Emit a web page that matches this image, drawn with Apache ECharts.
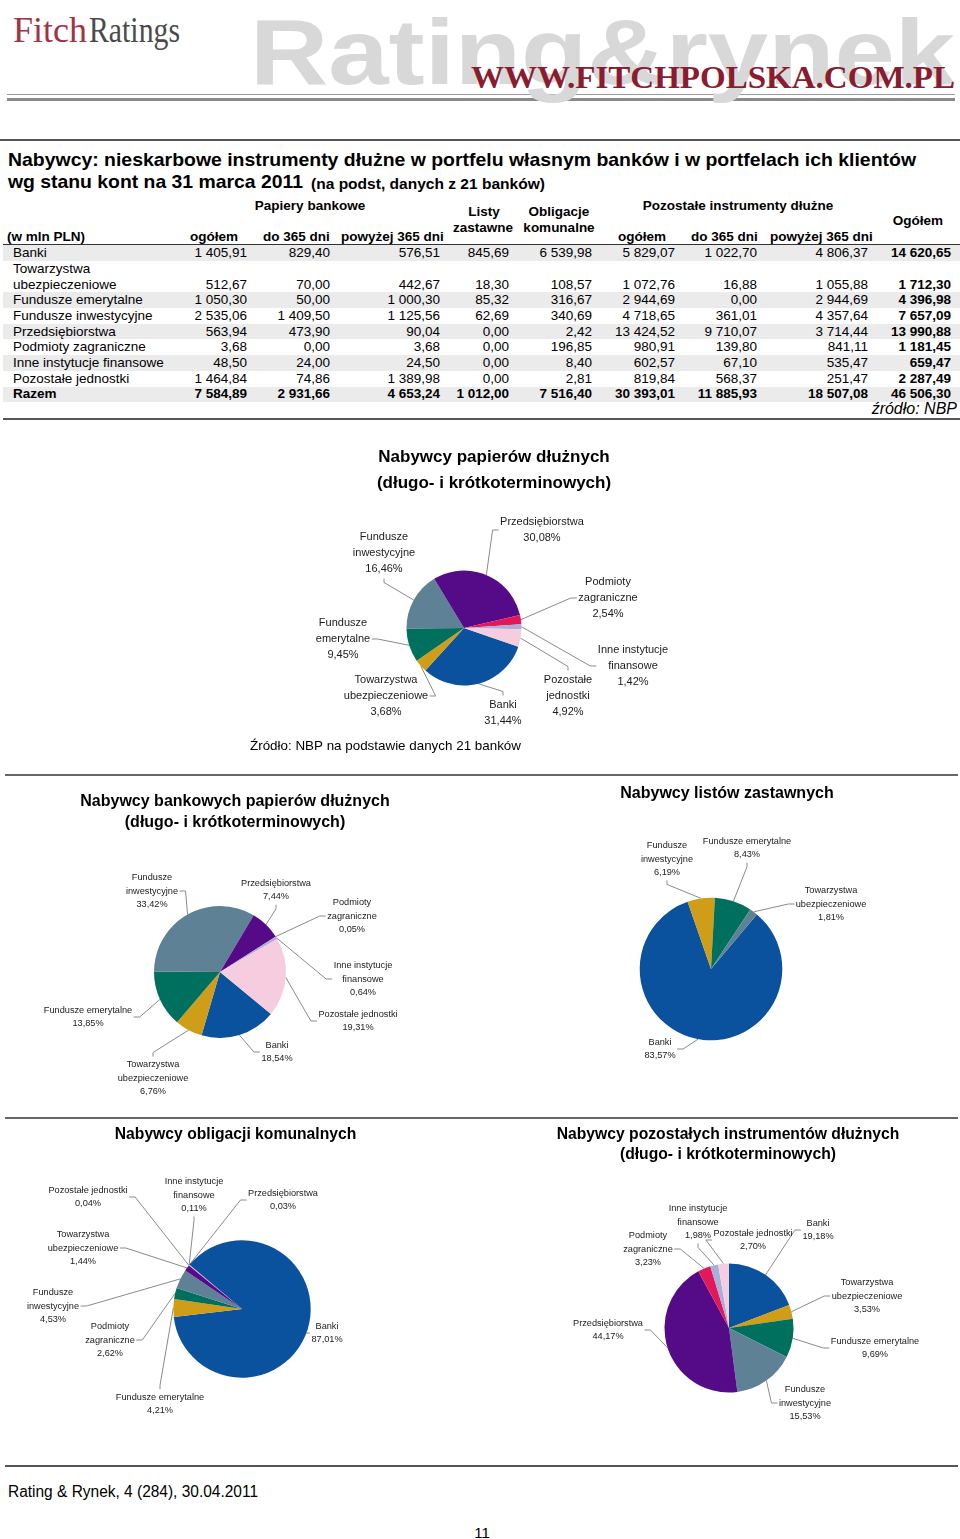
<!DOCTYPE html>
<html><head><meta charset="utf-8">
<script src="https://cdn.jsdelivr.net/npm/echarts@6/dist/echarts.min.js"></script>
<style>
html,body{margin:0;padding:0;background:#fff;}
#page{position:relative;width:960px;height:1539px;overflow:hidden;font-family:'Liberation Sans',Arial,sans-serif;color:#000;}
#chart{position:absolute;left:0;top:0;width:960px;height:1539px;z-index:2;}
.t{position:absolute;white-space:nowrap;line-height:1;z-index:1;}
.r{position:absolute;z-index:0;}
</style></head><body>
<div id="page"><div id="chart"></div></div>
<script>
// ---------- DATA ----------
const categories = ['Banki','Towarzystwa ubezpieczeniowe','Fundusze emerytalne','Fundusze inwestycyjne','Przedsiębiorstwa','Podmioty zagraniczne','Inne instytucje finansowe','Pozostałe jednostki'];
const bankOgolem = [1405.91, 512.67, 1050.30, 2535.06, 563.94, 3.68, 48.50, 1464.84];
const bankDo365  = [829.40, 70.00, 50.00, 1409.50, 473.90, 0.00, 24.00, 74.86];
const bankPow365 = [576.51, 442.67, 1000.30, 1125.56, 90.04, 3.68, 24.50, 1389.98];
const listyZastawne = [845.69, 18.30, 85.32, 62.69, 0.00, 0.00, 0.00, 0.00];
const obligacjeKomunalne = [6539.98, 108.57, 316.67, 340.69, 2.42, 196.85, 8.40, 2.81];
const pozOgolem  = [5829.07, 1072.76, 2944.69, 4718.65, 13424.52, 980.91, 602.57, 819.84];
const pozDo365   = [1022.70, 16.88, 0.00, 361.01, 9710.07, 139.80, 67.10, 568.37];
const pozPow365  = [4806.37, 1055.88, 2944.69, 4357.64, 3714.44, 841.11, 535.47, 251.47];
const ogolem     = [14620.65, 1712.30, 4396.98, 7657.09, 13990.88, 1181.45, 659.47, 2287.49];
const razem      = [7584.89, 2931.66, 4653.24, 1012.00, 7516.40, 30393.01, 11885.93, 18507.08, 46506.30];

// label texts per pie (by category index)
const pie1Labels = ['Banki','Towarzystwa\nubezpieczeniowe','Fundusze\nemerytalne','Fundusze\ninwestycyjne','Przedsiębiorstwa','Podmioty\nzagraniczne','Inne instytucje\nfinansowe','Pozostałe\njednostki'];
const pie2Labels = ['Banki','Towarzystwa\nubezpieczeniowe','Fundusze emerytalne','Fundusze\ninwestycyjne','Przedsiębiorstwa','Podmioty\nzagraniczne','Inne instytucje\nfinansowe','Pozostałe jednostki'];
const pie3Labels = ['Banki','Towarzystwa\nubezpieczeniowe','Fundusze emerytalne','Fundusze\ninwestycyjne','','','',''];
const pie4Labels = ['Banki','Towarzystwa\nubezpieczeniowe','Fundusze emerytalne','Fundusze\ninwestycyjne','Przedsiębiorstwa','Podmioty\nzagraniczne','Inne instytucje\nfinansowe','Pozostałe jednostki'];
const pie5Labels = ['Banki','Towarzystwa\nubezpieczeniowe','Fundusze emerytalne','Fundusze\ninwestycyjne','Przedsiębiorstwa','Podmioty\nzagraniczne','Inne instytucje\nfinansowe','Pozostałe jednostki'];

// ---------- STYLE / LAYOUT ----------
const C = {blue:'#0A519E', gold:'#CF9D17', green:'#00705E', grey:'#5F8196', purple:'#550B88', red:'#E2185A', lav:'#A8AFDB', pink:'#F5CDDF'};
const stdColors = [C.blue, C.gold, C.green, C.grey, C.purple, C.red, C.lav, C.pink];
const pies = [
  {src: ogolem, labels: pie1Labels, order:[0,1,2,3,4,5,6,7], colors: stdColors, center:[464,628], r:57.5, start:-19, font:11, lh:16,
   pos:[[39,85],[-78,68],[-121,11],[-80,-75],[78,-98],[144,-30],[169,38],[104,68]]},
  {src: bankOgolem, labels: pie2Labels, order:[0,1,2,3,4,5,6,7], colors: stdColors, center:[220,972], r:66, start:-39.5, font:9.2, lh:13.3,
   pos:[[57,80],[-67,106],[-132,45],[-68,-81],[56,-82],[132,-56],[143,7],[138,49]]},
  {src: listyZastawne, labels: pie3Labels, order:[0,3,2,1], colors:[C.blue, C.gold, C.green, C.grey], center:[711,969], r:71.3, start:50, font:9.2, lh:13.3,
   pos:[[-51,80],[120,-65],[36,-121],[-44,-110],null,null,null,null]},
  {src: obligacjeKomunalne, labels: pie4Labels, order:[0,2,5,3,1,7,6,4], colors: stdColors, center:[242,1309], r:68.7, start:140, font:9.2, lh:13.3,
   pos:[[85,24],[-159,-61],[-82,95],[-189,-3],[41,-109],[-132,31],[-48,-114],[-154,-112]]},
  {src: pozOgolem, labels: pie5Labels, order:[0,1,2,3,4,5,6,7], colors: stdColors, center:[729,1328], r:64.5, start:90, font:9.2, lh:13.3,
   pos:[[89,-98],[138,-32],[146,20],[76,75],[-121,2],[-81,-79],[-31,-106],[24,-88]]}
];

// ---------- HTML helpers ----------
const page = document.getElementById('page');
function txt(s, x, y, o) {
  o = o || {};
  const d = document.createElement('div');
  d.className = 't';
  d.textContent = s;
  d.style.fontSize = (o.size || 13.5) + 'px';
  if (o.bold) d.style.fontWeight = 'bold';
  if (o.italic) d.style.fontStyle = 'italic';
  if (o.family) d.style.fontFamily = o.family;
  if (o.color) d.style.color = o.color;
  if (o.ls) d.style.letterSpacing = o.ls + 'px';
  d.style.left = x + 'px';
  d.style.top = y + 'px';
  page.appendChild(d);
  const tx = o.align === 'right' ? '-100%' : o.align === 'center' ? '-50%' : '0';
  let tr = 'translate(' + tx + ',-50%)';
  if (o.fit) {
    const w = d.getBoundingClientRect().width;
    tr += ' scaleX(' + (o.fit / w) + ')';
    d.style.transformOrigin = o.align === 'right' ? '100% 50%' : o.align === 'center' ? '50% 50%' : '0 50%';
  }
  d.style.transform = tr;
  return d;
}
function rect(x, y, w, h, c) {
  const d = document.createElement('div');
  d.className = 'r';
  d.style.left = x + 'px'; d.style.top = y + 'px'; d.style.width = w + 'px'; d.style.height = h + 'px'; d.style.background = c;
  page.appendChild(d);
}
const fmt = v => { const s = v.toFixed(2).split('.'); return s[0].replace(/\B(?=(\d{3})+(?!\d))/g, ' ') + ',' + s[1]; };

// ---------- HEADER ----------
const serif = "'Liberation Serif','Times New Roman',serif";
txt('Rating&rynek', 250, 52, {size:92, bold:true, color:'#d8d8d8', fit:705});
txt('Fitch', 13, 30, {size:35, family:serif, color:'#a03346', fit:74});
txt('Ratings', 89, 30, {size:35, family:serif, color:'#4a4a4a', fit:91});
txt('WWW.FITCHPOLSKA.COM.PL', 955, 77, {size:32, family:serif, bold:true, color:'#8b1b2e', align:'right', fit:484});
rect(7, 94, 948, 1, '#9a9a9a');
rect(7, 98, 948, 3, '#8a8a8a');
rect(0, 139, 960, 2, '#555');

// ---------- TITLE ----------
txt('Nabywcy: nieskarbowe instrumenty dłużne w portfelu własnym banków i w portfelach ich klientów', 8, 160, {size:18.6, bold:true, fit:908});
txt('wg stanu kont na 31 marca 2011', 8, 182, {size:18.6, bold:true, fit:295});
txt('(na podst, danych z 21 banków)', 311, 183.5, {size:15.3, bold:true, fit:234});

// ---------- TABLE ----------
const colRight = [247, 330, 440, 509, 592, 675, 757, 868, 951];
const cols = [bankOgolem, bankDo365, bankPow365, listyZastawne, obligacjeKomunalne, pozOgolem, pozDo365, pozPow365, ogolem];
const y0 = 253.2, step = 15.68;
[0, 3, 5, 7, 9].forEach(li => rect(3, y0 + li * step - 7.8, 957, 15.6, '#ebebeb'));
rect(3, 244, 957, 1.3, '#333');
rect(3, 418, 957, 2, '#555');

txt('Papiery bankowe', 310, 205.5, {bold:true, align:'center'});
txt('Listy', 484, 212, {bold:true, align:'center'});
txt('zastawne', 483, 228, {bold:true, align:'center'});
txt('Obligacje', 559, 212, {bold:true, align:'center'});
txt('komunalne', 559, 228, {bold:true, align:'center'});
txt('Pozostałe instrumenty dłużne', 738, 205.5, {bold:true, align:'center'});
txt('Ogółem', 918, 220.5, {bold:true, align:'center'});
txt('(w mln PLN)', 7, 236.5, {bold:true});
[['ogółem',190],['do 365 dni',263],['powyżej 365 dni',341],['ogółem',618],['do 365 dni',691],['powyżej 365 dni',770]]
  .forEach(h => txt(h[0], h[1], 236.5, {bold:true}));

const lineIdx = [0, 2, 3, 4, 5, 6, 7, 8];
categories.forEach((name, i) => {
  const y = y0 + lineIdx[i] * step;
  if (i === 1) { txt('Towarzystwa', 13, y - step); txt('ubezpieczeniowe', 13, y); }
  else txt(name, 13, y);
  cols.forEach((col, c) => txt(fmt(col[i]), colRight[c], y, {align:'right', bold: c === 8}));
});
const yr = y0 + 9 * step;
txt('Razem', 13, yr, {bold:true});
razem.forEach((v, c) => txt(fmt(v), colRight[c], yr, {align:'right', bold:true}));
txt('źródło: NBP', 957, 409, {size:16, italic:true, align:'right'});

// separators
rect(5, 774, 953, 2, '#666');
rect(5, 1117, 953, 2, '#666');
rect(5, 1465, 953, 2, '#555');

// footer
txt('Rating & Rynek, 4 (284), 30.04.2011', 8, 1492, {size:16, fit:250});
txt('11', 482, 1532, {size:15, align:'center'});

// ---------- CHARTS ----------
const chart = echarts.init(document.getElementById('chart'), null, {renderer:'canvas'});
const labelFont = "'Liberation Sans',Arial,sans-serif";

function leader(p0, lx, ly, w, h) {
  const m = 1.5;
  const cands = [
    {e:[lx - w/2 - m, ly], k:[-6, 0]},
    {e:[lx + w/2 + m, ly], k:[6, 0]},
    {e:[lx, ly - h/2 - m], k:[0, -4]},
    {e:[lx, ly + h/2 + m], k:[0, 4]}
  ];
  let best = null, bd = Infinity;
  cands.forEach(c => {
    const hx = c.e[0] + c.k[0], hy = c.e[1] + c.k[1];
    const d = Math.hypot(hx - p0[0], hy - p0[1]);
    if (d < bd) { bd = d; best = [p0, [hx, hy], c.e]; }
  });
  return best;
}

const series = pies.map((P, si) => {
  const items = P.order.filter(ci => P.src[ci] > 0);
  const total = items.reduce((a, ci) => a + P.src[ci], 0);
  let cum = 0;
  P.meta = items.map(ci => {
    const v = P.src[ci];
    const mid = (P.start - 360 * (cum + v / 2) / total) * Math.PI / 180;
    cum += v;
    return {ci, p0:[P.center[0] + P.r * Math.cos(mid), P.center[1] - P.r * Math.sin(mid)]};
  });
  return {
    type:'pie', center:P.center, radius:P.r, startAngle:P.start, clockwise:true,
    avoidLabelOverlap:false, animation:false, silent:true,
    itemStyle:{borderWidth:0},
    label:{show:true, position:'outside', fontFamily:labelFont, fontSize:P.font, lineHeight:P.lh, color:'#1a1a1a',
      formatter: p => p.data.lab + '\n' + (p.value / total * 100).toFixed(2).replace('.', ',') + '%'},
    labelLine:{show:true, length:8, length2:8, lineStyle:{color:'#8a8a8a', width:1}},
    emphasis:{disabled:true},
    labelLayout: params => {
      const m = P.meta[params.dataIndex];
      const off = P.pos[m.ci];
      const lx = P.center[0] + off[0], ly = P.center[1] + off[1];
      const w = params.labelRect.width, h = params.labelRect.height;
      return {x:lx, y:ly, align:'center', verticalAlign:'middle', labelLinePoints: leader(m.p0, lx, ly, w, h)};
    },
    data: items.map((ci, k) => ({name:categories[ci], value:P.src[ci], lab:P.labels[ci], itemStyle:{color:P.colors[P.order.indexOf(ci)]}}))
  };
});

function gtext(s, x, y, size, bold) {
  return {type:'text', x, y, silent:true, style:{text:s, x:0, y:0, align:'center', verticalAlign:'middle', textAlign:'center', textVerticalAlign:'middle',
    font:(bold ? 'bold ' : '') + size + 'px ' + labelFont, fill:'#000'}};
}
const graphics = [
  gtext('Nabywcy papierów dłużnych', 494, 457, 17, true),
  gtext('(długo- i krótkoterminowych)', 494, 483, 17, true),
  {type:'text', x:250, y:746, silent:true, style:{text:'Źródło: NBP na podstawie danych 21 banków', x:0, y:0, align:'left', verticalAlign:'middle', textAlign:'left', textVerticalAlign:'middle', font:'13.4px ' + labelFont, fill:'#000'}},
  gtext('Nabywcy bankowych papierów dłużnych', 235, 802, 16, true),
  gtext('(długo- i krótkoterminowych)', 235, 823, 16, true),
  gtext('Nabywcy listów zastawnych', 727, 794, 16, true),
  gtext('Nabywcy obligacji komunalnych', 235.5, 1135, 15.7, true),
  gtext('Nabywcy pozostałych instrumentów dłużnych', 728, 1135, 15.7, true),
  gtext('(długo- i krótkoterminowych)', 728, 1155, 15.7, true)
];

chart.setOption({animation:false, backgroundColor:'transparent', series, graphic:graphics});
</script>
</body></html>
